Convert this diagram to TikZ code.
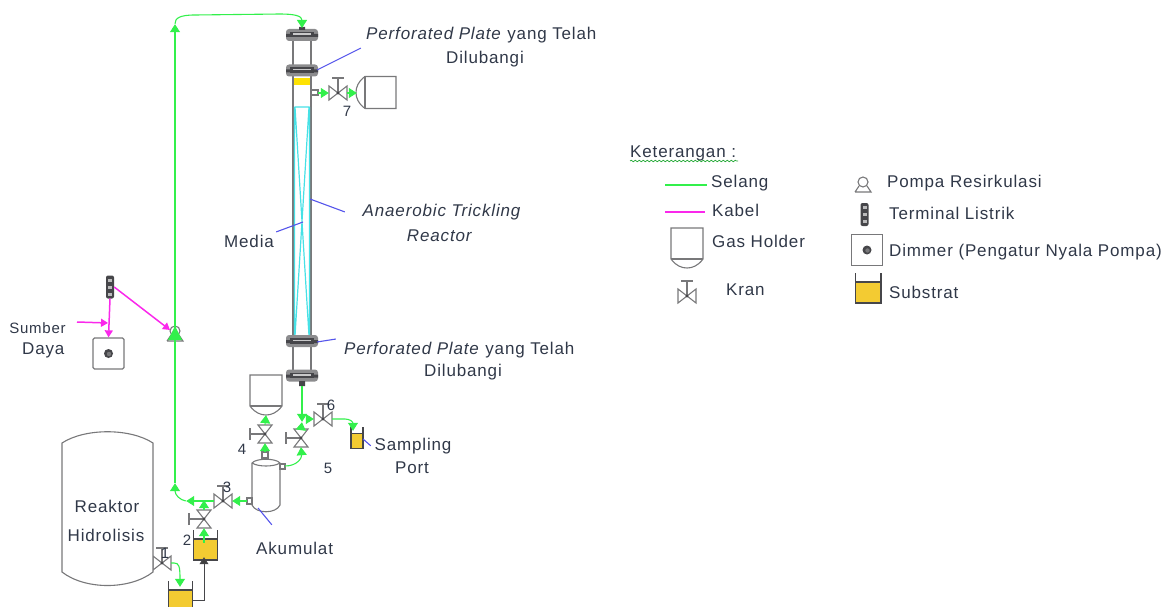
\documentclass[tikz,border=0pt]{standalone}
\usepackage{fontspec}
\setmainfont[LetterSpace=5]{Liberation Sans}
\usetikzlibrary{arrows.meta,decorations.pathmorphing}
\definecolor{hosec}{RGB}{50,240,75}
\definecolor{cablec}{RGB}{250,40,235}
\definecolor{linec}{RGB}{120,120,122}
\definecolor{darkc}{RGB}{70,70,74}
\definecolor{txtc}{RGB}{48,56,72}
\definecolor{leadc}{RGB}{85,85,235}
\definecolor{cyanc}{RGB}{70,225,230}
\definecolor{subc}{RGB}{243,203,50}
\tikzset{
  x=1pt,y=-1pt,
  txt/.style={font=\fontsize{17}{19}\selectfont,text=txtc,inner sep=0pt,anchor=west},
  num/.style={font=\fontsize{15}{17}\selectfont,text=txtc,inner sep=0pt},
  hose/.style={draw=hosec,line width=1.1pt},
  hoset/.style={hose,-{Triangle[length=8pt,width=10pt,fill=hosec]}},
  cable/.style={draw=cablec,line width=1.5pt},
  cablet/.style={cable,-{Triangle[length=7pt,width=8pt,fill=cablec]}},
  lead/.style={draw=leadc,line width=1.1pt},
  gear/.style={draw=linec,line width=1.1pt},
  hvalve/.style={inner sep=0pt,minimum width=18pt,minimum height=15pt},
  vvalve/.style={inner sep=0pt,minimum width=15pt,minimum height=18pt},
  point/.style={inner sep=0pt,minimum size=0pt},
  dimmerbox/.style={draw=linec,line width=1.3pt,rounded corners=1.5pt,minimum width=31pt,minimum height=31pt,inner sep=0pt},
  termbox/.style={fill=darkc,rounded corners=2pt,minimum width=8pt,minimum height=23pt,inner sep=0pt},
  valvepic/.pic={
    \draw[gear,fill=white] (-9,-7)--(9,7)--(9,-7)--(-9,7)--cycle;
    \draw[gear] (0,0)--(0,-15) (-6,-15)--(6,-15);
    \fill[darkc] (0,0) circle (1.6);
  },
  flange/.pic={
    \fill[linec!85,rounded corners=3pt] (-16,-6) rectangle (16,6);
    \fill[darkc] (-12,-3) rectangle (12,2.5);
    \fill[linec!40] (-9,-1.5) rectangle (9,0);
    \fill[darkc] (-16,-1) rectangle (-12,2) (12,-1) rectangle (16,2);
  },
  pumppic/.pic={
    \draw[gear,fill=white] (0,0) circle (5);
    \draw[gear] (-8,10)--(8,10)--(4,4) (-8,10)--(-4,4);
  },
  holderpic/.pic={
    \draw[gear,fill=white] (-16,0)--(16,0)--(16,31)..controls (11,38) and (5,40)..(0,40)..controls (-5,40) and (-11,38)..(-16,31)--cycle;
    \draw[gear] (-16,31)--(16,31);
  },
  tankpic/.pic={
    \fill[subc] (-12,9)rectangle(12,30);
    \draw[darkc,line width=1.1pt] (-12,0)--(-12,30)--(12,30)--(12,0);
    \draw[darkc,line width=1.1pt] (-12,9)--(12,9);
  },
  termpic/.pic={
    \foreach \yy in {-7,0,7}{\fill[linec!50] (-2,\yy-1.5) rectangle (2,\yy+1.5);}
  },
  knob/.pic={
    \fill[darkc] (0,0) circle (4.5);
    \fill[linec] (0.5,0.5) circle (2.2);
  },
}
\begin{document}
\begin{tikzpicture}
\useasboundingbox (0,0) rectangle (1172,607);
% column
\draw[linec,line width=1.6pt] (293,36)--(293,340) (311,36)--(311,340) (293,340)--(293,375) (311,340)--(311,375);
\fill[yellow!85!orange] (294,78) rectangle (310,85);
\draw[cyanc,line width=1.2pt] (294.5,107)--(309.5,107) (294.5,107)--(294.5,336) (309.5,107)--(309.5,336)
  (295,107)--(309,336) (309,107)--(295,336);
\node[point] (fl1) at (302,35) {};
\node[point] (fl2) at (302,70.5) {};
\node[point] (fl3) at (302,341) {};
\node[point] (fl4) at (302,375.5) {};
\pic at (fl1) {flange}; \pic at (fl2) {flange}; \pic at (fl3) {flange}; \pic at (fl4) {flange};
\fill[darkc] (299,27) rectangle (305,30) (299,381) rectangle (305,386);
% top hose
\coordinate (topin) at (302,28);
\node[point] (retup) at (175,24) {};
% valves
\node[hvalve] (v7) at (338,93) {}; \pic at (v7) {valvepic};
\node[hvalve] (v6) at (323,419) {}; \pic at (v6) {valvepic};
\node[hvalve] (v3) at (223,501) {}; \pic at (v3) {valvepic};
\node[hvalve] (v1) at (162,563) {}; \pic at (v1) {valvepic};
\node[vvalve] (v5) at (301,438) {}; \pic[rotate=90] at (v5) {valvepic};
\node[vvalve] (v4) at (265,434) {}; \pic[rotate=90] at (v4) {valvepic};
\node[vvalve] (v2) at (204,519) {}; \pic[rotate=90] at (v2) {valvepic};
% gas holders
\node[point] (gh1) at (266,375) {}; \pic at (gh1) {holderpic};
\node[point] (gh1b) at (266,415) {};
\node[point] (gh2) at (396,92.5) {}; \pic[rotate=-90] at (gh2) {holderpic};
\node[point] (gh2b) at (357,93) {};
\draw[gear] (311,90) rectangle (318,95);
% accumulator
\draw[gear,fill=white] (252,463) ..controls (256,458) and (276,458)..(280,463)--(280,505)..controls (276,514) and (256,514)..(252,505)--cycle;
\draw[gear] (252,463)..controls (258,467) and (274,467)..(280,463);
\draw[gear] (247,498) rectangle (252,504) (280,464) rectangle (285,469) (262,452) rectangle (268,458);
\node[point] (accw) at (247,501) {};
\node[point] (acce) at (285,466) {};
\node[point] (accn) at (265,452) {};
% reactor
\draw[gear,fill=white] (62,443)..controls (85,428) and (130,428)..(153,443)--(153,572)..controls (130,590) and (85,590)..(62,572)--cycle;
% tanks
\node[point] (t2) at (205.5,530) {}; \pic[scale=1] at (t2) {tankpic};
\node[point] (t1) at (180.5,581) {}; \pic at (t1) {tankpic};
\node[point] (t3) at (357,427) {}; \pic[xscale=.5,yscale=.72] at (t3) {tankpic};
\node[point] (t2in) at (204,557) {};
\node[point] (t1out) at (193,600) {};
\node[point] (t2out) at (204,543) {};
\node[point] (t1in) at (180,587) {};
\node[point] (t3in) at (353,431) {};
% electrical
\node[termbox] (term) at (110,287) {}; \pic at (term) {termpic};
\node[dimmerbox] (dim) at (108.5,353.5) {}; \pic at (dim) {knob};
\node[point] (pump) at (175,331) {}; \pic at (pump) {pumppic};
\coordinate (pumpin) at (170,330);
\coordinate (src) at (77,322);
\coordinate (srcin) at (108,323);
% hoses
\node[point] (j1) at (186,501) {};
\node[point] (j2) at (175,483) {};
\node[point] (j3) at (204,500) {};
\node[point] (j4) at (302,422) {};
\node[point] (j5) at (306,419) {};
\draw[hoset] (retup) ..controls (175,18) and (180,15) ..(195,15) -- (280,14) ..controls (295,14) and (302,16)..(topin);
\draw[hoset] (pump) -- (retup);
\draw[hose] (j2) -- (pump);
\draw[hoset] (j1) ..controls (180,500) and (175,495)..(j2);
\draw[hoset] (v3.west) -- (j1);
\draw[hoset] (accw) -- (v3.east);
\draw[hoset] (v2.north) -- (j3);
\draw[hoset] (t2out) -- (v2.south);
\draw[hoset] (v1.east) -- (174,563) ..controls (179,563) and (180,566) ..(t1in);
\draw[hoset] (v4.north) -- (gh1b);
\draw[hoset] (accn) -- (v4.south);
\draw[hoset] (acce) ..controls (297,466) and (302,458)..(v5.south);
\draw[hoset] (v5.north) -- (j4);
\draw[hoset] (302,386) -- (j4);
\draw[hoset] (j5) -- (v6.west);
\draw[hoset] (v6.east) -- (345,419)..controls (350,419) and (353,422)..(t3in);
\draw[hoset] (318,93) -- (v7.west);
\draw[hoset] (v7.east) -- (gh2b);
% black feed
\draw[darkc,line width=.9pt,-{Triangle[length=7pt,width=9pt,fill=black!75]}] (t1out) -- (204,600) -- (t2in);
% cables
\draw[cablet] (term.south) -- (dim.north);
\draw[cablet] (src) -- (srcin);
\draw[cablet] (term.east) -- (pumpin);
\fill[hosec] (175,326)--(182,340)--(168,340)--cycle;
% leaders
\node[point] (lbA) at (361,48) {};
\node[point] (lbB) at (345,212) {};
\node[point] (lbC) at (276,232) {};
\node[point] (lbD) at (336,339) {};
\node[point] (lbE) at (371,446) {};
\node[point] (lbF) at (272,525) {};
\draw[lead] (317,70)--(lbA);
\draw[lead] (310,199)--(lbB);
\draw[lead] (303,222)--(lbC);
\draw[lead] (317,342)--(lbD);
\draw[lead] (363,439)--(lbE);
\draw[lead] (258,508)--(lbF);
% labels
\node[txt] (p1) at (366,35) {\textit{Perforated Plate} yang Telah};
\node[txt,anchor=center] (p1b) at (485,59) {Dilubangi};
\node[txt] (p2) at (344,350) {\textit{Perforated Plate} yang Telah};
\node[txt,anchor=center] (p2b) at (463,372) {Dilubangi};
\node[txt,anchor=center] (an1) at (442,212) {\textit{Anaerobic Trickling}};
\node[txt,anchor=center] (an2) at (440,236) {\textit{Reactor}};
\node[txt] (med) at (224,241) {Media};
\node[txt,anchor=center] (s1) at (37.5,328) {\fontsize{15}{17}\selectfont Sumber};
\node[txt] (s2) at (22,350) {Daya};
\node[txt,anchor=center] (sp1) at (413,446) {Sampling};
\node[txt,anchor=center] (sp2) at (412,468) {Port};
\node[txt,anchor=center] (rk1) at (107,506) {Reaktor};
\node[txt,anchor=center] (rk2) at (106,535) {Hidrolisis};
\node[txt] (ak) at (256,548) {Akumulat};
\node[num] (n1) at (165,553) {1};
\node[num] (n2) at (187,540) {2};
\node[num] (n3) at (227,487) {3};
\node[num] (n4) at (242,449) {4};
\node[num] (n5) at (328,468) {5};
\node[num] (n6) at (331,405) {6};
\node[num] (n7) at (347,111) {7};
% legend
\node[txt] (ket) at (630,153) {Keterangan :};
\draw[decorate,decoration={snake,amplitude=.8pt,segment length=4pt},draw=hosec!70!black,line width=.7pt] (630,161)--(738,161);
\node[point] (ls1) at (665,185) {}; \node[point] (ls2) at (707,185) {};
\draw[hose] (ls1)--(ls2);
\node[txt] (tsel) at (711,183) {Selang};
\node[point] (lk1) at (665,212) {}; \node[point] (lk2) at (705,212) {};
\draw[cable] (lk1)--(lk2);
\node[txt] (tkab) at (712,210) {Kabel};
\node[point] (lgh) at (687,228) {}; \pic at (lgh) {holderpic};
\node[txt] (tgh) at (712,241) {Gas Holder};
\node[hvalve] (lv) at (687,296) {}; \pic at (lv) {valvepic};
\node[txt] (tkr) at (726,290) {Kran};
\node[point] (lp) at (863,182) {}; \pic at (lp) {pumppic};
\node[txt] (tp) at (887,183) {Pompa Resirkulasi};
\node[termbox] (lt) at (864.5,214.5) {}; \pic at (lt) {termpic};
\node[txt] (tt) at (889,213) {Terminal Listrik};
\node[dimmerbox,rounded corners=0pt] (ld) at (867,250) {}; \pic at (ld) {knob};
\node[txt] (td) at (889,252) {Dimmer (Pengatur Nyala Pompa)};
\node[point] (ls) at (868,273) {}; \pic[xscale=1.08] at (ls) {tankpic};
\node[txt] (tsu) at (889,292) {Substrat};
\end{tikzpicture}
\end{document}
